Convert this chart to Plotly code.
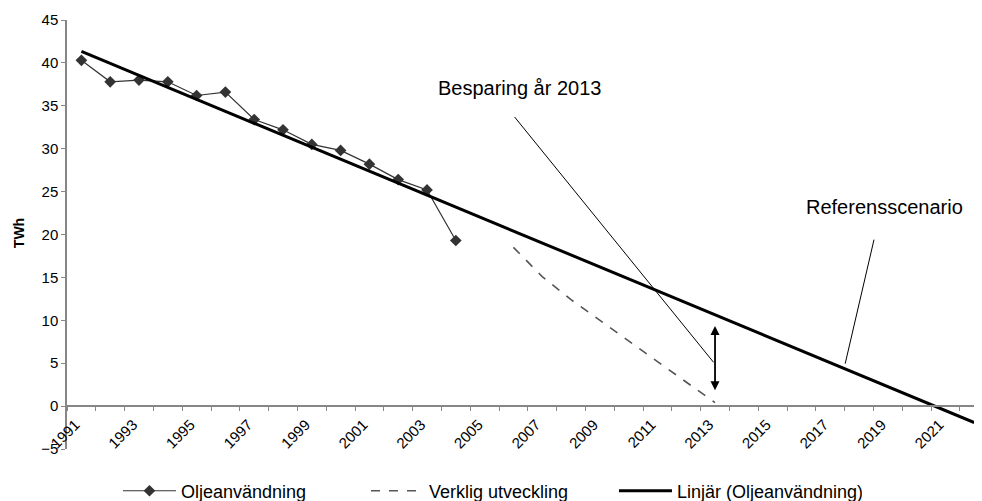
import numpy as np
import plotly.graph_objects as go

# ---- data ----
years_olje = [1991, 1992, 1993, 1994, 1995, 1996, 1997, 1998, 1999, 2000, 2001, 2002, 2003, 2004]
olje = [40.3, 37.8, 38.0, 37.8, 36.2, 36.6, 33.4, 32.2, 30.5, 29.8, 28.2, 26.4, 25.2, 19.3]

years_verklig = [2006, 2007, 2008, 2009, 2010, 2011, 2012, 2013]
verklig = [18.5, 15.1, 12.4, 10.0, 7.6, 5.3, 2.8, 0.4]

years_trend = list(range(1991, 2023))

series_names = ["Oljeanvändning", "Verklig utveckling", "Linjär (Oljeanvändning)"]
y_title = "TWh"
note_saving = "Besparing år 2013"
note_ref = "Referensscenario"

# linear trendline fitted to the oil-use series (as in the spreadsheet)
coef = np.polyfit(years_olje, olje, 1)
trend = np.polyval(coef, years_trend)

FONT = "Liberation Sans, Arial, sans-serif"
AXIS_GRAY = "#868686"
X_RANGE = [1990.5, 2022.27]

fig = go.Figure()

fig.add_trace(go.Scatter(
    x=years_olje, y=olje, name=series_names[0], mode="lines+markers",
    line=dict(color="#333333", width=1.2),
    marker=dict(symbol="diamond", size=9, color="#333333"),
))
fig.add_trace(go.Scatter(
    x=years_verklig, y=verklig, name=series_names[1], mode="lines",
    line=dict(color="#555555", width=1.6, dash="dash"),
))
fig.add_trace(go.Scatter(
    x=years_trend, y=trend, name=series_names[2], mode="lines",
    line=dict(color="#000000", width=3),
))
# invisible helper trace so the label axis is drawn
fig.add_trace(go.Scatter(
    x=years_trend, y=trend, xaxis="x2", mode="lines",
    line=dict(width=0), opacity=0, showlegend=False, hoverinfo="skip",
))

# annotation lines
fig.add_shape(type="line", xref="x", yref="y", x0=2006.04, y0=33.7, x1=2012.95, y1=5.1,
              line=dict(color="#000000", width=1))
fig.add_shape(type="line", xref="x", yref="y", x0=2018.52, y0=19.4, x1=2017.52, y1=4.95,
              line=dict(color="#000000", width=1))

fig.add_annotation(x=2006.2, y=37.1, xref="x", yref="y", text=note_saving, showarrow=False,
                   font=dict(family=FONT, size=20, color="#000000"))
fig.add_annotation(x=2018.9, y=23.2, xref="x", yref="y", text=note_ref, showarrow=False,
                   font=dict(family=FONT, size=20, color="#000000"))

# double-headed arrow at 2013
fig.add_annotation(x=2013, y=1.85, ax=2013, ay=9.5, xref="x", yref="y", axref="x", ayref="y",
                   text="", showarrow=True, arrowhead=2, arrowside="end+start",
                   arrowsize=1, arrowwidth=1.8, arrowcolor="#000000")

# y-axis title
fig.add_annotation(x=-0.0525, y=0.503, xref="paper", yref="paper", text="<b>" + y_title + "</b>",
                   textangle=-90, showarrow=False, xanchor="center", yanchor="middle",
                   font=dict(family=FONT, size=14, color="#000000"))

fig.update_layout(
    width=982, height=501,
    margin=dict(l=59, r=8, t=12, b=60, autoexpand=False),
    paper_bgcolor="white", plot_bgcolor="white",
    font=dict(family=FONT, size=15, color="#000000"),
    showlegend=True,
    legend=dict(orientation="h", x=0.0557, y=-0.098, xanchor="left", yanchor="middle",
                font=dict(family=FONT, size=18, color="#000000"),
                itemwidth=53, entrywidth=180, entrywidthmode="pixels",
                bgcolor="rgba(0,0,0,0)", tracegroupgap=0),
    xaxis=dict(
        range=X_RANGE, anchor="free", position=0.1,
        showline=True, linecolor=AXIS_GRAY, linewidth=1.5,
        ticks="outside", ticklen=4, tickcolor=AXIS_GRAY, tickwidth=1,
        tick0=1990.5, dtick=1, showticklabels=False,
        showgrid=False, zeroline=False,
    ),
    xaxis2=dict(
        range=X_RANGE, overlaying="x", anchor="free", position=0.1, side="bottom",
        showline=False, ticks="", tick0=1991, dtick=2, tickangle=-45,
        ticklabelstandoff=6, ticklabelshift=-6,
        tickfont=dict(family=FONT, size=15, color="#000000"),
        showgrid=False, zeroline=False,
    ),
    yaxis=dict(
        range=[-5, 45], dtick=5, tick0=0,
        showline=True, linecolor=AXIS_GRAY, linewidth=1.5,
        ticks="outside", ticklen=4, tickcolor=AXIS_GRAY,
        tickfont=dict(family=FONT, size=15, color="#000000"),
        showgrid=False, zeroline=False,
    ),
)

fig.write_html("out.html")
